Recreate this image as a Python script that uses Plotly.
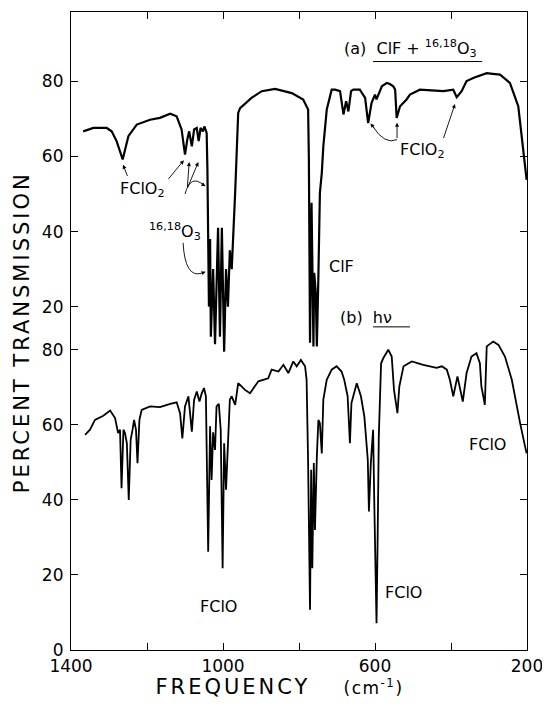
import plotly.graph_objects as go

# Spectrum (a): ClF + 16,18O3  (wavenumber cm-1, percent transmission on the upper scale)
wn_a = [1368, 1341, 1306, 1293, 1280, 1264, 1249, 1227, 1192, 1166, 1139, 1122, 1109, 1100,
        1094, 1089, 1082, 1076, 1069, 1064, 1059, 1053, 1049, 1043, 1041, 1039, 1037, 1034,
        1032, 1026, 1021, 1013, 1008, 1003, 997, 992, 987, 982, 977, 968, 960, 955, 925, 898,
        863, 819, 789, 776, 774, 771, 767, 762, 760, 756, 753, 749, 745, 740, 736, 727, 718,
        714, 705, 692, 683, 676, 670, 663, 657, 640, 626, 618, 609, 600, 596, 582, 569, 561,
        552, 547, 543, 534, 517, 508, 482, 450, 420, 394, 385, 372, 359, 340, 306, 290, 271,
        245, 236, 223, 210, 201]
tr_a = [66.7, 67.6, 67.6, 66.7, 64.1, 59.2, 65.4, 68.5, 69.8, 70.3, 71.4, 70.7, 67.2, 60.5,
        64.5, 66.7, 62.7, 67.2, 67.6, 64.1, 67.6, 66.7, 68.0, 66.3, 56.5, 28.0, 20.0, 38.0,
        12.0, 30.0, 10.0, 41.0, 12.0, 41.0, 8.0, 30.0, 20.0, 35.0, 30.0, 50.4, 71.6, 72.9, 75.6, 77.4,
        78.0, 76.9, 75.2, 72.5, 59.2, 10.4, 47.7, 9.4, 29.0, 24.0, 9.4, 28.0, 50.4, 55.6, 62.7, 72.5, 76.0,
        77.8, 77.8, 77.4, 71.2, 74.7, 72.0, 77.4, 77.8, 77.8, 75.6, 68.9, 74.3, 76.5, 75.2, 78.7, 79.6, 79.3,
        78.7, 77.8, 70.3, 73.4, 75.2, 76.5, 77.8, 77.6, 77.4, 77.8, 75.8, 77.4, 80.1, 81.0, 82.2, 82.0, 81.8,
        79.6, 76.9, 73.4, 61.8, 53.8]

# Spectrum (b): after photolysis (h nu)
wn_b = [1363, 1350, 1337, 1315, 1297, 1284, 1276, 1271, 1267, 1262, 1258, 1253, 1248, 1243,
        1238, 1234, 1229, 1225, 1220, 1214, 1192, 1166, 1139, 1122, 1113, 1107, 1100, 1091,
        1082, 1076, 1069, 1062, 1056, 1050, 1045, 1043, 1039, 1034, 1030, 1026, 1021, 1017,
        1011, 1006, 1001, 997, 992, 989, 985, 982, 977, 968, 960, 942, 929, 907, 881, 872,
        854, 841, 828, 815, 806, 795, 784, 780, 776, 771, 768, 765, 761, 758, 753, 749, 745,
        740, 736, 727, 714, 701, 688, 681, 672, 666, 662, 648, 637, 628, 619, 616, 611, 605,
        602, 596, 593, 590, 584, 578, 565, 556, 550, 546, 541, 536, 525, 503, 473, 438, 424,
        411, 403, 394, 383, 369, 359, 346, 333, 324, 320, 315, 311, 306, 289, 275, 258, 240,
        227, 218, 205, 201]
tr_b = [57.3, 58.7, 61.3, 62.4, 63.8, 61.8, 57.8, 58.7, 43.1, 58.7, 57.8, 55.1, 40.0, 56.0,
        58.7, 61.3, 58.7, 49.8, 61.3, 64.0, 64.9, 64.7, 65.6, 66.0, 63.1, 56.4, 64.9, 67.6,
        58.2, 66.7, 68.9, 66.2, 68.4, 69.8, 67.6, 55.1, 26.2, 59.6, 45.3, 58.0, 53.3, 64.9,
        65.6, 58.7, 21.8, 55.1, 42.7, 50.0, 61.3, 66.7, 67.6, 65.3, 71.1, 69.3, 68.4, 71.6, 72.4, 74.7,
        74.2, 76.0, 73.8, 76.9, 75.6, 77.3, 75.6, 72.0, 49.8, 10.7, 48.0, 21.8, 49.8, 32.0, 51.6, 61.3, 60.4,
        52.4, 66.7, 72.0, 74.7, 75.6, 74.2, 72.0, 67.6, 55.1, 65.8, 71.1, 67.6, 62.2, 50.7, 36.9, 49.8, 58.7,
        40.0, 7.1, 30.2, 56.9, 76.4, 77.8, 80.0, 78.2, 69.3, 66.7, 63.1, 70.2, 75.6, 76.9, 76.0, 75.2, 75.6,
        74.7, 72.0, 67.6, 72.9, 66.2, 73.8, 78.2, 79.1, 76.4, 70.2, 67.6, 65.3, 80.9, 82.2, 81.3, 78.2, 72.0,
        64.9, 60.4, 54.2, 52.4]

UPPER_OFFSET = 71.5   # upper trace is shifted up on a shared axis

x_ticks = [1400, 1200, 1000, 800, 600, 400, 200]
x_ticktext = ["1400", "", "1000", "", "600", "", "200"]
y_ticks_lower = [0, 20, 40, 60, 80]
y_ticks_upper = [20, 40, 60, 80]

FONT = "DejaVu Sans"

fig = go.Figure()
fig.add_scatter(x=wn_a, y=[t + UPPER_OFFSET for t in tr_a], mode="lines",
                line=dict(color="black", width=2.2), showlegend=False)
fig.add_scatter(x=wn_b, y=tr_b, mode="lines",
                line=dict(color="black", width=1.8), showlegend=False)

yvals = y_ticks_lower + [v + UPPER_OFFSET for v in y_ticks_upper]
ytext = [str(v) for v in y_ticks_lower] + [str(v) for v in y_ticks_upper]

fig.update_xaxes(range=[1400, 200], tickvals=x_ticks, ticktext=x_ticktext,
                 showline=True, linecolor="black", linewidth=1.2, mirror="ticks",
                 ticks="inside", ticklen=7, tickcolor="black", showgrid=False, zeroline=False,
                 tickfont=dict(family=FONT, size=17, color="black"))
fig.update_yaxes(range=[0, 170], tickvals=yvals, ticktext=ytext,
                 showline=True, linecolor="black", linewidth=1.2, mirror="ticks",
                 ticks="inside", ticklen=7, tickcolor="black", showgrid=False, zeroline=False,
                 ticklabelstandoff=3,
                 tickfont=dict(family=FONT, size=17, color="black"))

def label(x, y, text, size=16, **kw):
    fig.add_annotation(x=x, y=y, text=text, showarrow=False,
                       font=dict(family=FONT, size=size, color="black"), **kw)

def arrow(x0, y0, x1, y1):
    # tail (x0, y0) -> head (x1, y1), data coordinates
    fig.add_annotation(x=x1, y=y1, ax=x0, ay=y0, axref="x", ayref="y", text="",
                       showarrow=True, arrowhead=2, arrowsize=0.9, arrowwidth=0.9,
                       arrowcolor="black")

def curve(path):
    fig.add_shape(type="path", path=path, xref="x", yref="y",
                  line=dict(color="black", width=0.9))

# labels for spectrum (a)
label(687, 160.3, "(a)  ClF + <sup>16,18</sup>O<sub>3</sub>", xanchor="left")
fig.add_shape(type="line", x0=605, x1=318, y0=156.8, y1=156.8, xref="x", yref="y",
              line=dict(color="black", width=1))
label(689, 102.1, "ClF")
label(1213, 122.7, "FClO<sub>2</sub>")
label(1126, 111.5, "<sup>16,18</sup>O<sub>3</sub>")
label(476, 133.0, "FClO<sub>2</sub>")

arrow(1250, 125.9, 1263, 129.3)
arrow(1147, 125.1, 1103, 130.5)
arrow(1094, 123.0, 1089, 130.0)
arrow(1094, 123.0, 1065, 130.0)
curve("M 1100,121.5 Q 1085,127 1050,123.8")
arrow(1058, 124.3, 1046, 123.6)
curve("M 1105,108.5 Q 1100,99 1056,100.4")
arrow(1058, 100.3, 1046, 100.8)
curve("M 606,139.5 Q 574,134.5 542,136")
arrow(542, 136, 542, 140.5)
arrow(598, 138.6, 612, 140.3)
arrow(421, 136, 389.5, 145.5)

# labels for spectrum (b)
label(697, 88.5, "(b)  h&#957;", xanchor="left")
fig.add_shape(type="line", x0=605, x1=508, y0=86.1, y1=86.1, xref="x", yref="y",
              line=dict(color="black", width=1))
label(1011, 11.5, "FClO")
label(524, 15.2, "FClO")
label(303, 54.7, "FClO")

# axis titles
fig.add_annotation(xref="paper", yref="paper", x=0.355, y=-0.058, showarrow=False,
                   xanchor="center", yanchor="middle", text="FREQUENCY",
                   font=dict(family=FONT, size=21, color="black"))
fig.add_annotation(xref="paper", yref="paper", x=0.664, y=-0.058, showarrow=False,
                   xanchor="center", yanchor="middle", text="(cm<sup>-1</sup>)",
                   font=dict(family=FONT, size=17, color="black"))
fig.add_annotation(xref="paper", yref="paper", x=-0.1075, y=0.498, showarrow=False,
                   xanchor="center", yanchor="middle",
                   textangle=-90, text="PERCENT TRANSMISSION",
                   font=dict(family=FONT, size=21, color="black"))

# page body has an 8 px margin, so the figure is sized to fit inside it
fig.update_layout(width=542, height=699, plot_bgcolor="white", paper_bgcolor="white",
                  margin=dict(l=63, r=23, t=4, b=57), showlegend=False)

# widen the lettering of the two axis titles, as in the hand-lettered original
spacing_js = """
var gd = document.getElementById('{plot_id}');
gd.querySelectorAll('text.annotation-text').forEach(function(t) {
    var s = t.textContent;
    if (s.indexOf('PERCENT') === 0 || s.indexOf('FREQUENCY') === 0) {
        t.style.letterSpacing = '3px';
    } else if (s.indexOf('(cm') === 0) {
        t.style.letterSpacing = '1.5px';
    }
});
"""

fig.write_html("out.html", post_script=spacing_js)
